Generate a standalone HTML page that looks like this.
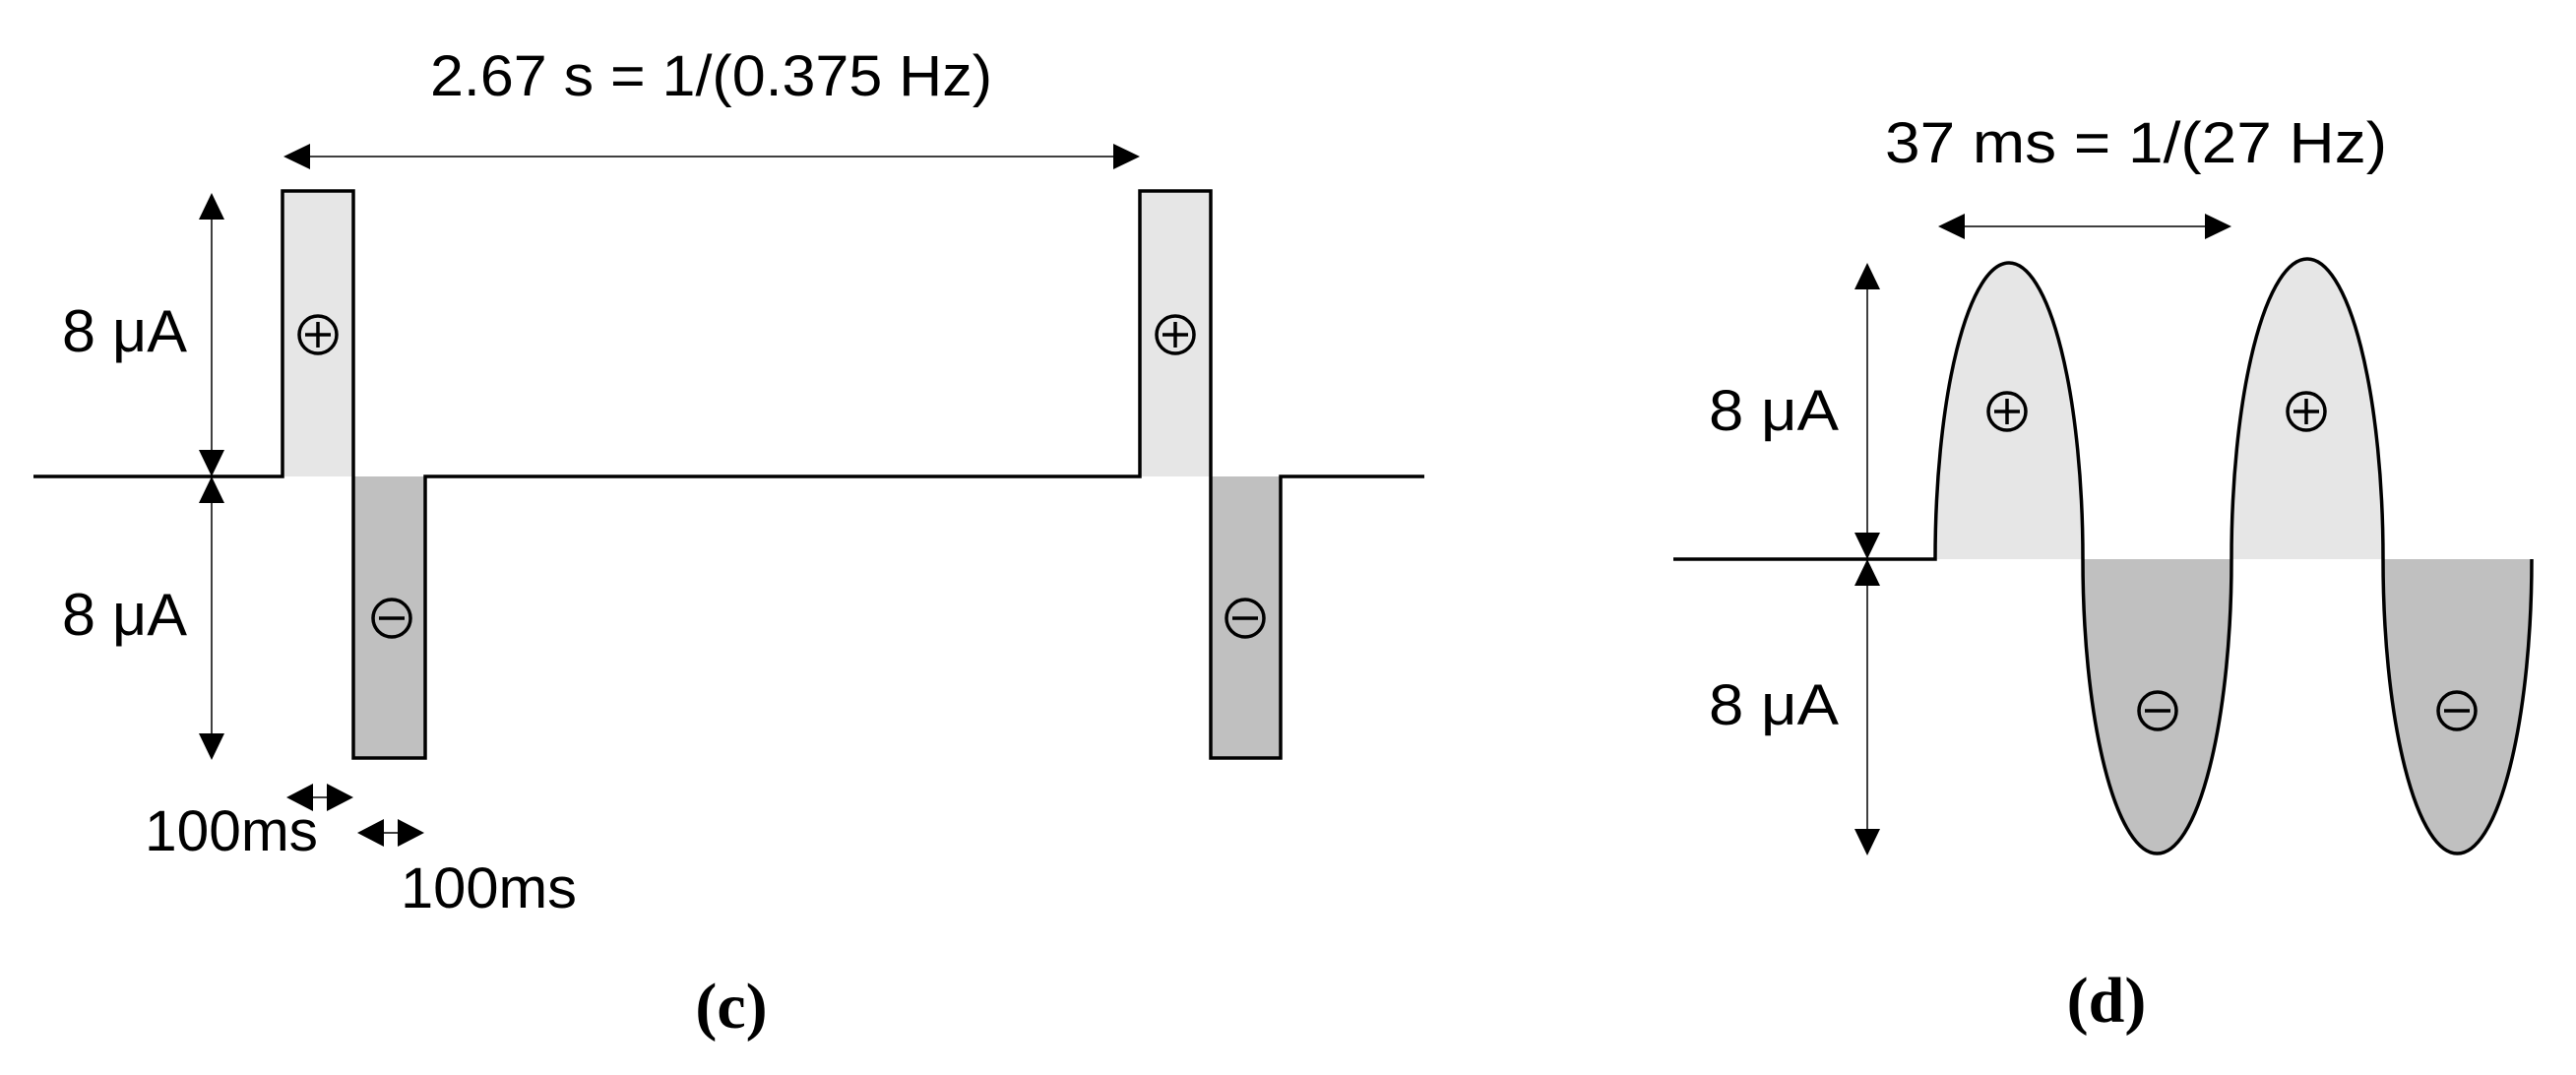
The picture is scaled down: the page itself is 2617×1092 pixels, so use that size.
<!DOCTYPE html>
<html><head><meta charset="utf-8"><style>html,body{margin:0;padding:0;background:#fff}svg{display:block}</style></head>
<body>
<svg width="2617" height="1092" viewBox="0 0 2617 1092" xmlns="http://www.w3.org/2000/svg">
<defs>
<g id="plus"><circle r="19" fill="none" stroke="#000" stroke-width="3.5"/><line x1="-13" y1="0" x2="13" y2="0" stroke="#000" stroke-width="3.5"/><line x1="0" y1="-13" x2="0" y2="13" stroke="#000" stroke-width="3.5"/></g>
<g id="minus"><circle r="19" fill="none" stroke="#000" stroke-width="3.5"/><line x1="-13" y1="0" x2="13" y2="0" stroke="#000" stroke-width="3.5"/></g>
</defs>
<g font-family="Liberation Sans, Arial, sans-serif" fill="#000">
<!-- Panel c -->
<rect x="287" y="194" width="72" height="290" fill="#e6e6e6"/>
<rect x="359" y="484" width="73" height="286" fill="#c0c0c0"/>
<rect x="1158" y="194" width="72" height="290" fill="#e6e6e6"/>
<rect x="1230" y="484" width="71" height="286" fill="#c0c0c0"/>
<polyline points="34,484 287,484 287,194 359,194 359,770 432,770 432,484 1158,484 1158,194 1230,194 1230,770 1301,770 1301,484 1447,484" fill="none" stroke="#000" stroke-width="3.5"/>
<use href="#plus" x="323" y="340"/><use href="#minus" x="398" y="628"/>
<use href="#plus" x="1194" y="340"/><use href="#minus" x="1265" y="628"/>
<line x1="310" y1="159" x2="1135" y2="159" stroke="#000" stroke-width="1.5"/>
<polygon points="288,159 315,146 315,172"/><polygon points="1158,159 1131,146 1131,172"/>
<line x1="215" y1="215" x2="215" y2="750" stroke="#000" stroke-width="1.5"/>
<polygon points="215,196 202,223 228,223"/><polygon points="215,484 202,457 228,457"/>
<polygon points="215,484 202,511 228,511"/><polygon points="215,772 202,745 228,745"/>
<line x1="310" y1="810" x2="340" y2="810" stroke="#000" stroke-width="1.5"/>
<polygon points="291,810 318,796 318,824"/><polygon points="359,810 332,796 332,824"/>
<line x1="380" y1="846" x2="412" y2="846" stroke="#000" stroke-width="1.5"/>
<polygon points="363,846 390,832 390,860"/><polygon points="431,846 404,832 404,860"/>
<text x="437" y="97" font-size="58" textLength="571" lengthAdjust="spacingAndGlyphs">2.67 s = 1/(0.375 Hz)</text>
<text x="63" y="357" font-size="60" textLength="127" lengthAdjust="spacingAndGlyphs">8 μA</text>
<text x="63" y="645" font-size="60" textLength="127" lengthAdjust="spacingAndGlyphs">8 μA</text>
<text x="147" y="864" font-size="58" textLength="176" lengthAdjust="spacingAndGlyphs">100ms</text>
<text x="407" y="922" font-size="58" textLength="179" lengthAdjust="spacingAndGlyphs">100ms</text>
<text x="743" y="1044" font-size="66" font-weight="bold" font-family="Liberation Serif, serif" text-anchor="middle">(c)</text>
<!-- Panel d -->
<path d="M1966,568 A75,301 0 0 1 2116,568 Z" fill="#e6e6e6"/>
<path d="M2267,568 A76,301 0 0 1 2421,568 Z" fill="#e6e6e6"/>
<path d="M2116,568 A75.5,299 0 0 0 2267,568 Z" fill="#c0c0c0"/>
<path d="M2421,568 A75.5,299 0 0 0 2572,568 Z" fill="#c0c0c0"/>
<path d="M1700,568 L1966,568 A75,301 0 0 1 2116,568 A75.5,299 0 0 0 2267,568 A76,301 0 0 1 2421,568 A75.5,299 0 0 0 2572,568" fill="none" stroke="#000" stroke-width="3.5"/>
<use href="#plus" x="2039" y="418"/><use href="#plus" x="2343" y="418"/>
<use href="#minus" x="2192" y="722"/><use href="#minus" x="2496" y="722"/>
<line x1="1990" y1="230" x2="2245" y2="230" stroke="#000" stroke-width="1.5"/>
<polygon points="1969,230 1996,217 1996,243"/><polygon points="2267,230 2240,217 2240,243"/>
<line x1="1897" y1="285" x2="1897" y2="850" stroke="#000" stroke-width="1.5"/>
<polygon points="1897,267 1884,294 1910,294"/><polygon points="1897,568 1884,541 1910,541"/>
<polygon points="1897,568 1884,595 1910,595"/><polygon points="1897,869 1884,842 1910,842"/>
<text x="1915" y="165" font-size="58" textLength="510" lengthAdjust="spacingAndGlyphs">37 ms = 1/(27 Hz)</text>
<text x="1736" y="437" font-size="58" textLength="132" lengthAdjust="spacingAndGlyphs">8 μA</text>
<text x="1736" y="736" font-size="58" textLength="132" lengthAdjust="spacingAndGlyphs">8 μA</text>
<text x="2140" y="1038" font-size="66" font-weight="bold" font-family="Liberation Serif, serif" text-anchor="middle">(d)</text>
</g>
</svg>
</body></html>
